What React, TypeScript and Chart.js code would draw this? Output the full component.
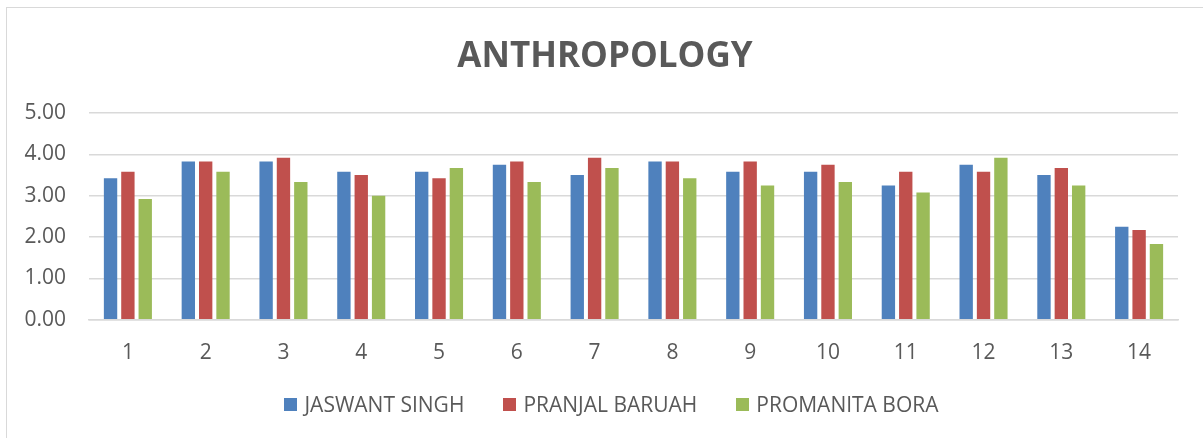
import React, { useEffect, useRef } from "react";
import { Chart, registerables } from "chart.js";

Chart.register(...registerables);

const categories = ["1", "2", "3", "4", "5", "6", "7", "8", "9", "10", "11", "12", "13", "14"];
const jaswantSingh = [3.42, 3.83, 3.83, 3.58, 3.58, 3.75, 3.5, 3.83, 3.58, 3.58, 3.25, 3.75, 3.5, 2.25];
const pranjalBaruah = [3.58, 3.83, 3.92, 3.5, 3.42, 3.83, 3.92, 3.83, 3.83, 3.75, 3.58, 3.58, 3.67, 2.17];
const promanitaBora = [2.92, 3.58, 3.33, 3.0, 3.67, 3.33, 3.67, 3.42, 3.25, 3.33, 3.08, 3.92, 3.25, 1.83];
const seriesNames = ["JASWANT SINGH", "PRANJAL BARUAH", "PROMANITA BORA"];
const seriesColors = ["#4F81BD", "#C0504D", "#9BBB59"];
const chartTitle = "ANTHROPOLOGY";

const FONT = "'Open Sans', 'Noto Sans', sans-serif";
const TEXT = "#595959";

export default function App() {
  const ref = useRef<HTMLCanvasElement | null>(null);

  useEffect(() => {
    if (!ref.current) return;
    const values = [jaswantSingh, pranjalBaruah, promanitaBora];
    const chart = new Chart(ref.current, {
      type: "bar",
      data: {
        labels: categories,
        datasets: seriesNames.map((name, i) => ({
          label: name,
          data: values[i],
          backgroundColor: seriesColors[i],
          borderWidth: 0,
          categoryPercentage: 0.669,
          barPercentage: 0.77,
        })),
      },
      options: {
        animation: false,
        responsive: false,
        maintainAspectRatio: false,
        layout: { padding: { left: 0, right: 25, top: 113, bottom: 59 } },
        plugins: {
          title: { display: false },
          legend: { display: false },
          tooltip: { enabled: false },
        },
        scales: {
          x: {
            grid: { display: false },
            border: { display: true, color: "#d9d9d9", width: 1.5 },
            ticks: { color: TEXT, font: { family: FONT, size: 21 }, padding: 13 },
          },
          y: {
            min: 0,
            max: 5,
            afterFit: (scale: any) => {
              scale.width = 89;
            },
            grid: { color: "#d9d9d9", lineWidth: 1.5, drawTicks: false },
            border: { display: false },
            ticks: {
              stepSize: 1,
              color: TEXT,
              font: { family: FONT, size: 21 },
              padding: 23,
              callback: (v: any) => Number(v).toFixed(2),
            },
          },
        },
      },
    });
    return () => chart.destroy();
  }, []);

  return (
    <div style={{ position: "fixed", left: 0, top: 0, width: 1203, height: 438, background: "#fff" }}>
      <div
        style={{
          position: "absolute",
          left: 6,
          top: 7,
          right: 0,
          bottom: 0,
          borderTop: "1px solid #d9d9d9",
          borderLeft: "1px solid #d9d9d9",
        }}
      />
      <canvas ref={ref} width={1203} height={438} style={{ position: "absolute", left: 0, top: 0 }} />
      <div
        style={{
          position: "absolute",
          left: 305,
          width: 600,
          top: 33,
          height: 42,
          lineHeight: "42px",
          textAlign: "center",
          fontFamily: FONT,
          fontSize: 35,
          fontWeight: 700,
          color: TEXT,
        }}
      >
        {chartTitle}
      </div>
      <div
        style={{
          position: "absolute",
          left: 0,
          width: 1203,
          top: 390,
          height: 28,
          display: "flex",
          justifyContent: "center",
          alignItems: "center",
          gap: 39,
          fontFamily: FONT,
          fontSize: 21,
          color: TEXT,
          paddingLeft: 20,
          boxSizing: "border-box",
        }}
      >
        {seriesNames.map((name, i) => (
          <div key={name} style={{ display: "flex", alignItems: "center", gap: 7 }}>
            <span style={{ display: "inline-block", width: 13, height: 13, background: seriesColors[i] }} />
            <span style={{ lineHeight: "28px" }}>{name}</span>
          </div>
        ))}
      </div>
    </div>
  );
}
